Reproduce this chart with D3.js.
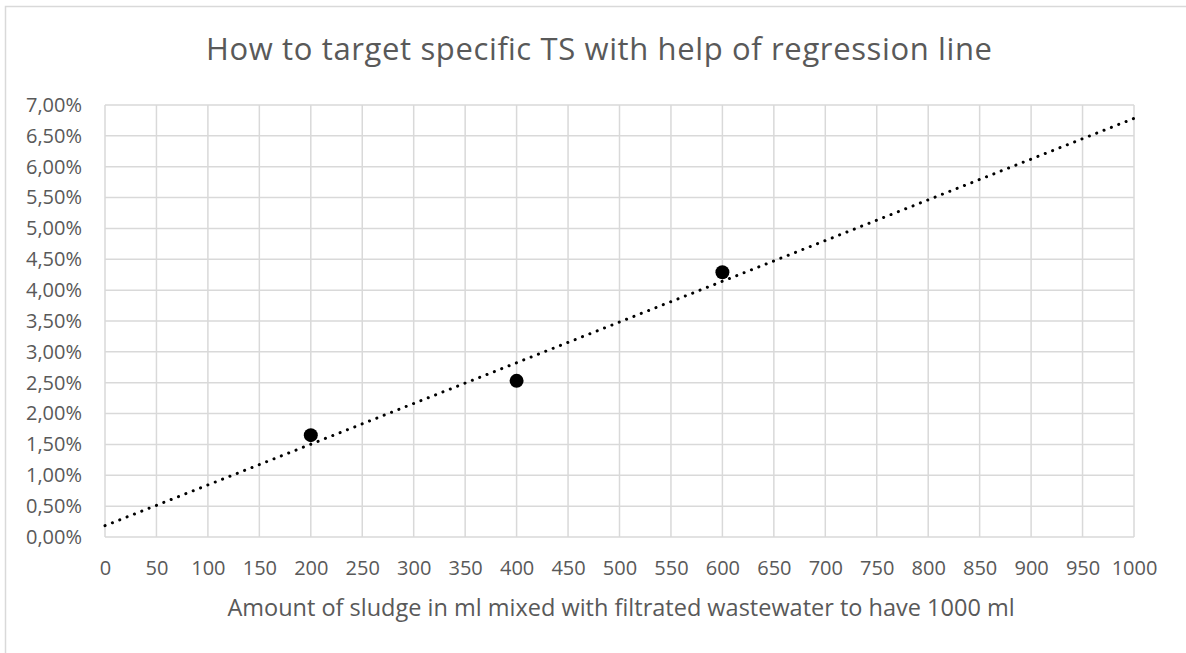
<!DOCTYPE html>
<html>
<head>
<meta charset="utf-8">
<script src="https://cdn.jsdelivr.net/npm/d3@7"></script>
<style>
  body { margin: 0; background: #fff; }
  text { font-family: "Open Sans", "Liberation Sans", sans-serif; fill: #595959; }
</style>
</head>
<body>
<div id="chart"></div>
<script>
var title = 'How to target specific TS with help of regression line';
var xTitle = 'Amount of sludge in ml mixed with filtrated wastewater to have 1000 ml';
var sludgeMl = [200, 400, 600];
var tsValues = [0.0165, 0.0253, 0.0429];
var xTicks = d3.range(0, 1001, 50);
var yTicks = d3.range(0, 0.0701, 0.005);

var width = 1186, height = 653;
var plot = { left: 105, right: 1134, top: 105, bottom: 537 };

var svg = d3.select('#chart').append('svg')
    .attr('width', width)
    .attr('height', height);

// chart frame (only top / left visible in the crop)
svg.append('rect')
    .attr('x', 5.5).attr('y', 6.5)
    .attr('width', 1300).attr('height', 800)
    .attr('fill', 'none')
    .attr('stroke', '#d9d9d9')
    .attr('stroke-width', 1.5);

var x = d3.scaleLinear().domain([0, 1000]).range([plot.left, plot.right]);
var y = d3.scaleLinear().domain([0, 0.07]).range([plot.bottom, plot.top]);

var fmt = function (v) { return (v * 100).toFixed(2).replace('.', ',') + '%'; };

// gridlines
svg.append('g').selectAll('line').data(xTicks).enter()
    .append('line')
    .attr('x1', function (d) { return x(d); })
    .attr('x2', function (d) { return x(d); })
    .attr('y1', plot.top).attr('y2', plot.bottom)
    .attr('stroke', '#d9d9d9').attr('stroke-width', 1.5);
svg.append('g').selectAll('line').data(yTicks).enter()
    .append('line')
    .attr('y1', function (d) { return y(d); })
    .attr('y2', function (d) { return y(d); })
    .attr('x1', plot.left).attr('x2', plot.right)
    .attr('stroke', '#d9d9d9').attr('stroke-width', 1.5);

// axes labels via d3 axes, domain/ticks hidden
var xAxis = svg.append('g')
    .attr('transform', 'translate(0,' + plot.bottom + ')')
    .call(d3.axisBottom(x).tickValues(xTicks).tickFormat(d3.format('d')).tickSize(0).tickPadding(24));
var yAxis = svg.append('g')
    .attr('transform', 'translate(' + plot.left + ',0)')
    .call(d3.axisLeft(y).tickValues(yTicks).tickFormat(fmt).tickSize(0).tickPadding(23));
[xAxis, yAxis].forEach(function (g) {
    g.select('.domain').remove();
    g.selectAll('text')
        .attr('font-family', '"Open Sans", sans-serif')
        .attr('font-size', 20)
        .attr('fill', '#595959');
});

// regression line (least squares)
var n = sludgeMl.length;
var mx = d3.mean(sludgeMl), my = d3.mean(tsValues);
var sxy = 0, sxx = 0;
for (var i = 0; i < n; i++) {
    sxy += (sludgeMl[i] - mx) * (tsValues[i] - my);
    sxx += (sludgeMl[i] - mx) * (sludgeMl[i] - mx);
}
var slope = sxy / sxx;
var intercept = my - slope * mx;

svg.append('line')
    .attr('x1', x(0)).attr('y1', y(intercept))
    .attr('x2', x(1000)).attr('y2', y(intercept + slope * 1000))
    .attr('stroke', '#000')
    .attr('stroke-width', 3)
    .attr('stroke-linecap', 'round')
    .attr('stroke-dasharray', '0.1 7.8');

// data points
svg.selectAll('.pt').data(sludgeMl).enter()
    .append('circle')
    .attr('class', 'pt')
    .attr('cx', function (d) { return x(d); })
    .attr('cy', function (d, i) { return y(tsValues[i]); })
    .attr('r', 7)
    .attr('fill', '#000');

// titles
svg.append('text')
    .attr('x', 599).attr('y', 60)
    .attr('text-anchor', 'middle')
    .attr('font-size', 31)
    .attr('textLength', 786)
    .attr('lengthAdjust', 'spacing')
    .text(title);
svg.append('text')
    .attr('x', 621).attr('y', 616)
    .attr('text-anchor', 'middle')
    .attr('font-size', 23.5)
    .text(xTitle);
</script>
</body>
</html>
